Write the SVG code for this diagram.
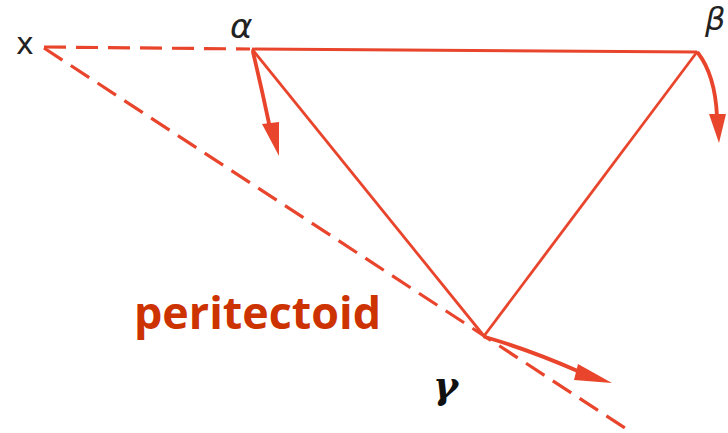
<svg xmlns="http://www.w3.org/2000/svg" width="728" height="433" viewBox="0 0 728 433">
<defs>
<style>
.ln{stroke:#e8452c;stroke-width:2.8;fill:none;stroke-linecap:butt}
.ds{stroke-width:3.2;stroke-dasharray:22 10}
.ar{stroke:#e8452c;stroke-width:3.8;fill:none;stroke-linecap:round}
.hd{fill:#e8452c}
.lab{font-family:"DejaVu Sans",sans-serif;fill:#222}
</style>
</defs>
<rect width="728" height="433" fill="#ffffff"/>
<g id="connectors">
<line class="ln ds" x1="44" y1="47" x2="250" y2="49"/>
<line class="ln" x1="252" y1="49" x2="697" y2="52"/>
<line class="ln" x1="252" y1="49" x2="484" y2="336"/>
<line class="ln" x1="697" y1="52" x2="484" y2="336"/>
<line class="ln ds" x1="44" y1="48" x2="625" y2="428"/>
<path class="ar" d="M253 52 Q262 90 270 128"/>
<polygon class="hd" points="262,124 279,122 279,156"/>
<path class="ar" d="M698 53 Q715 75 717 116"/>
<polygon class="hd" points="709,114 726,114 719,143"/>
<path class="ar" d="M485 337 Q530 350 580 372"/>
<polygon class="hd" points="578,364 612,383 574,380"/>
</g>
<g id="node-x"><text class="lab" x="16" y="54" font-size="30">x</text></g>
<g id="node-alpha"><text class="lab" x="230" y="38" font-size="34" font-style="italic">α</text></g>
<g id="node-beta"><text class="lab" x="705" y="30" font-size="32" font-style="italic">β</text></g>
<g id="node-gamma"><text x="433" y="398" font-size="38" font-weight="bold" font-style="italic" font-family="'DejaVu Serif',serif" fill="#111">γ</text></g>
<g id="label-peritectoid"><text x="134" y="329" font-size="44" font-weight="bold" font-family="'Open Sans',sans-serif" fill="#cc3300" textLength="247" lengthAdjust="spacingAndGlyphs">peritectoid</text></g>
</svg>
